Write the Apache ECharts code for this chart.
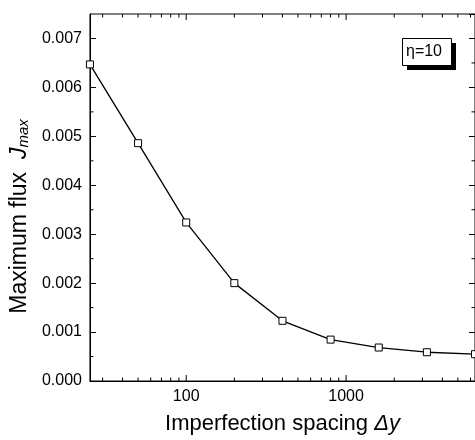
<!DOCTYPE html>
<html>
<head>
<meta charset="utf-8">
<script src="https://cdn.jsdelivr.net/npm/echarts@6/dist/echarts.min.js"></script>
<style>
html,body{margin:0;padding:0;background:#fff;}
#chart{width:475px;height:440px;}
</style>
</head>
<body>
<div id="chart"></div>
<script>
// ---- data ----
const spacing = [25, 50, 100, 200, 400, 800, 1600, 3200, 6400];
const jmax = [0.00647, 0.00486, 0.00324, 0.00200, 0.00123, 0.000846, 0.000684, 0.000588, 0.000548];
const xLabels = [100, 1000];
const xMajorTicks = [100, 1000];
const xMinorTicks = [30, 40, 50, 60, 70, 80, 90, 200, 300, 400, 500, 600, 700, 800, 900, 2000, 3000, 4000, 5000, 6000];
const yMinorTicks = [0.0005, 0.0015, 0.0025, 0.0035, 0.0045, 0.0055, 0.0065];
const xMin = 25, xMax = 6400, yMin = 0, yMax = 0.0075, yStep = 0.001;
const legendText = 'η=10';

const chart = echarts.init(document.getElementById('chart'), null, {renderer: 'canvas'});
const FONT = 'Liberation Sans, Arial, Helvetica, sans-serif';
const TXT = '#000';

function tickSeries(values, len, dir) {
  // dir 'x': ticks on bottom & top; 'y': ticks on left & right
  return {
    type: 'custom',
    silent: true,
    clip: false,
    z: 5,
    data: values.map(v => dir === 'x' ? [v, yMin] : [xMin, v]),
    renderItem: function (params, api) {
      let a, b;
      if (dir === 'x') {
        a = api.coord([api.value(0), yMin]);
        b = api.coord([api.value(0), yMax]);
        return {type: 'group', children: [
          {type: 'line', shape: {x1: a[0], y1: a[1], x2: a[0], y2: a[1] - len}, style: {stroke: '#000', lineWidth: 1}},
          {type: 'line', shape: {x1: b[0], y1: b[1], x2: b[0], y2: b[1] + len}, style: {stroke: '#000', lineWidth: 1}}
        ]};
      } else {
        a = api.coord([xMin, api.value(1)]);
        b = api.coord([xMax, api.value(1)]);
        return {type: 'group', children: [
          {type: 'line', shape: {x1: a[0], y1: a[1], x2: a[0] + len, y2: a[1]}, style: {stroke: '#000', lineWidth: 1}},
          {type: 'line', shape: {x1: b[0], y1: b[1], x2: b[0] - len, y2: b[1]}, style: {stroke: '#000', lineWidth: 1}}
        ]};
      }
    }
  };
}

const option = {
  animation: false,
  backgroundColor: '#fff',
  grid: {left: 89, top: 14, right: -1.5, bottom: 56, show: true, borderColor: '#000', borderWidth: 1, backgroundColor: 'transparent'},
  xAxis: {
    type: 'log',
    logBase: 10,
    min: xMin,
    max: xMax,
    name: '{a|Imperfection spacing }{b|Δy}',
    nameLocation: 'middle',
    nameGap: 32,
    nameTextStyle: {
      rich: {
        a: {fontFamily: FONT, fontSize: 22, color: TXT},
        b: {fontFamily: FONT, fontSize: 22, color: TXT, fontStyle: 'italic'}
      }
    },
    axisLine: {show: true, lineStyle: {color: '#000', width: 1}},
    axisTick: {show: false},
    splitLine: {show: false},
    axisLabel: {
      margin: 8,
      fontFamily: FONT, fontSize: 16, color: TXT,
      showMinLabel: false, showMaxLabel: false,
      formatter: function (v) {
        const r = Math.round(v);
        return xLabels.indexOf(r) >= 0 && Math.abs(r - v) < 1e-6 * r ? String(r) : '';
      }
    }
  },
  yAxis: [{
    type: 'value',
    min: yMin, max: yMax, interval: yStep,
    position: 'left',
    name: '{a|Maximum flux}{s|  }{j|J}{m|max}',
    nameLocation: 'middle',
    nameGap: 53,
    nameRotate: 90,
    nameTextStyle: {
      padding: [0, 38, 0, 0],
      rich: {
        a: {fontFamily: FONT, fontSize: 23, color: TXT},
        s: {fontFamily: FONT, fontSize: 23, color: TXT},
        j: {fontFamily: FONT, fontSize: 23, color: TXT, fontStyle: 'italic'},
        m: {fontFamily: FONT, fontSize: 15, color: TXT, fontStyle: 'italic', verticalAlign: 'bottom'}
      }
    },
    axisLine: {show: true, lineStyle: {color: '#000', width: 1}},
    axisTick: {show: true, inside: true, length: 6, lineStyle: {color: '#000', width: 1}},
    splitLine: {show: false},
    axisLabel: {
      margin: 8, fontFamily: FONT, fontSize: 16, color: TXT,
      showMaxLabel: false,
      formatter: function (v) { return v.toFixed(3); }
    }
  }, {
    type: 'value',
    min: yMin, max: yMax, interval: yStep,
    position: 'right',
    axisLine: {show: true, lineStyle: {color: '#000', width: 1}},
    axisTick: {show: true, inside: true, length: 6, lineStyle: {color: '#000', width: 1}},
    splitLine: {show: false},
    axisLabel: {show: false}
  }],
  series: [
    tickSeries(xMajorTicks, 6, 'x'),
    tickSeries(xMinorTicks, 3.5, 'x'),
    tickSeries(yMinorTicks, 3.5, 'y'),
    {
      type: 'line',
      data: spacing.map((x, i) => [x, jmax[i]]),
      symbol: 'rect',
      symbolSize: 7,
      showSymbol: true,
      clip: false,
      z: 10,
      lineStyle: {color: '#000', width: 1.3},
      itemStyle: {color: '#fff', borderColor: '#000', borderWidth: 1}
    }
  ],
  graphic: [
    {type: 'rect', left: 407, top: 43, shape: {width: 49, height: 27}, style: {fill: '#000'}, z: 20},
    {type: 'rect', left: 402, top: 38, shape: {width: 49, height: 27}, style: {fill: '#fff', stroke: '#000', lineWidth: 1}, z: 21},
    {type: 'text', x: 424, y: 52, style: {text: legendText, fontFamily: FONT, fontSize: 16, fill: TXT, textAlign: 'center', textVerticalAlign: 'middle'}, z: 22}
  ]
};
chart.setOption(option);
</script>
</body>
</html>
